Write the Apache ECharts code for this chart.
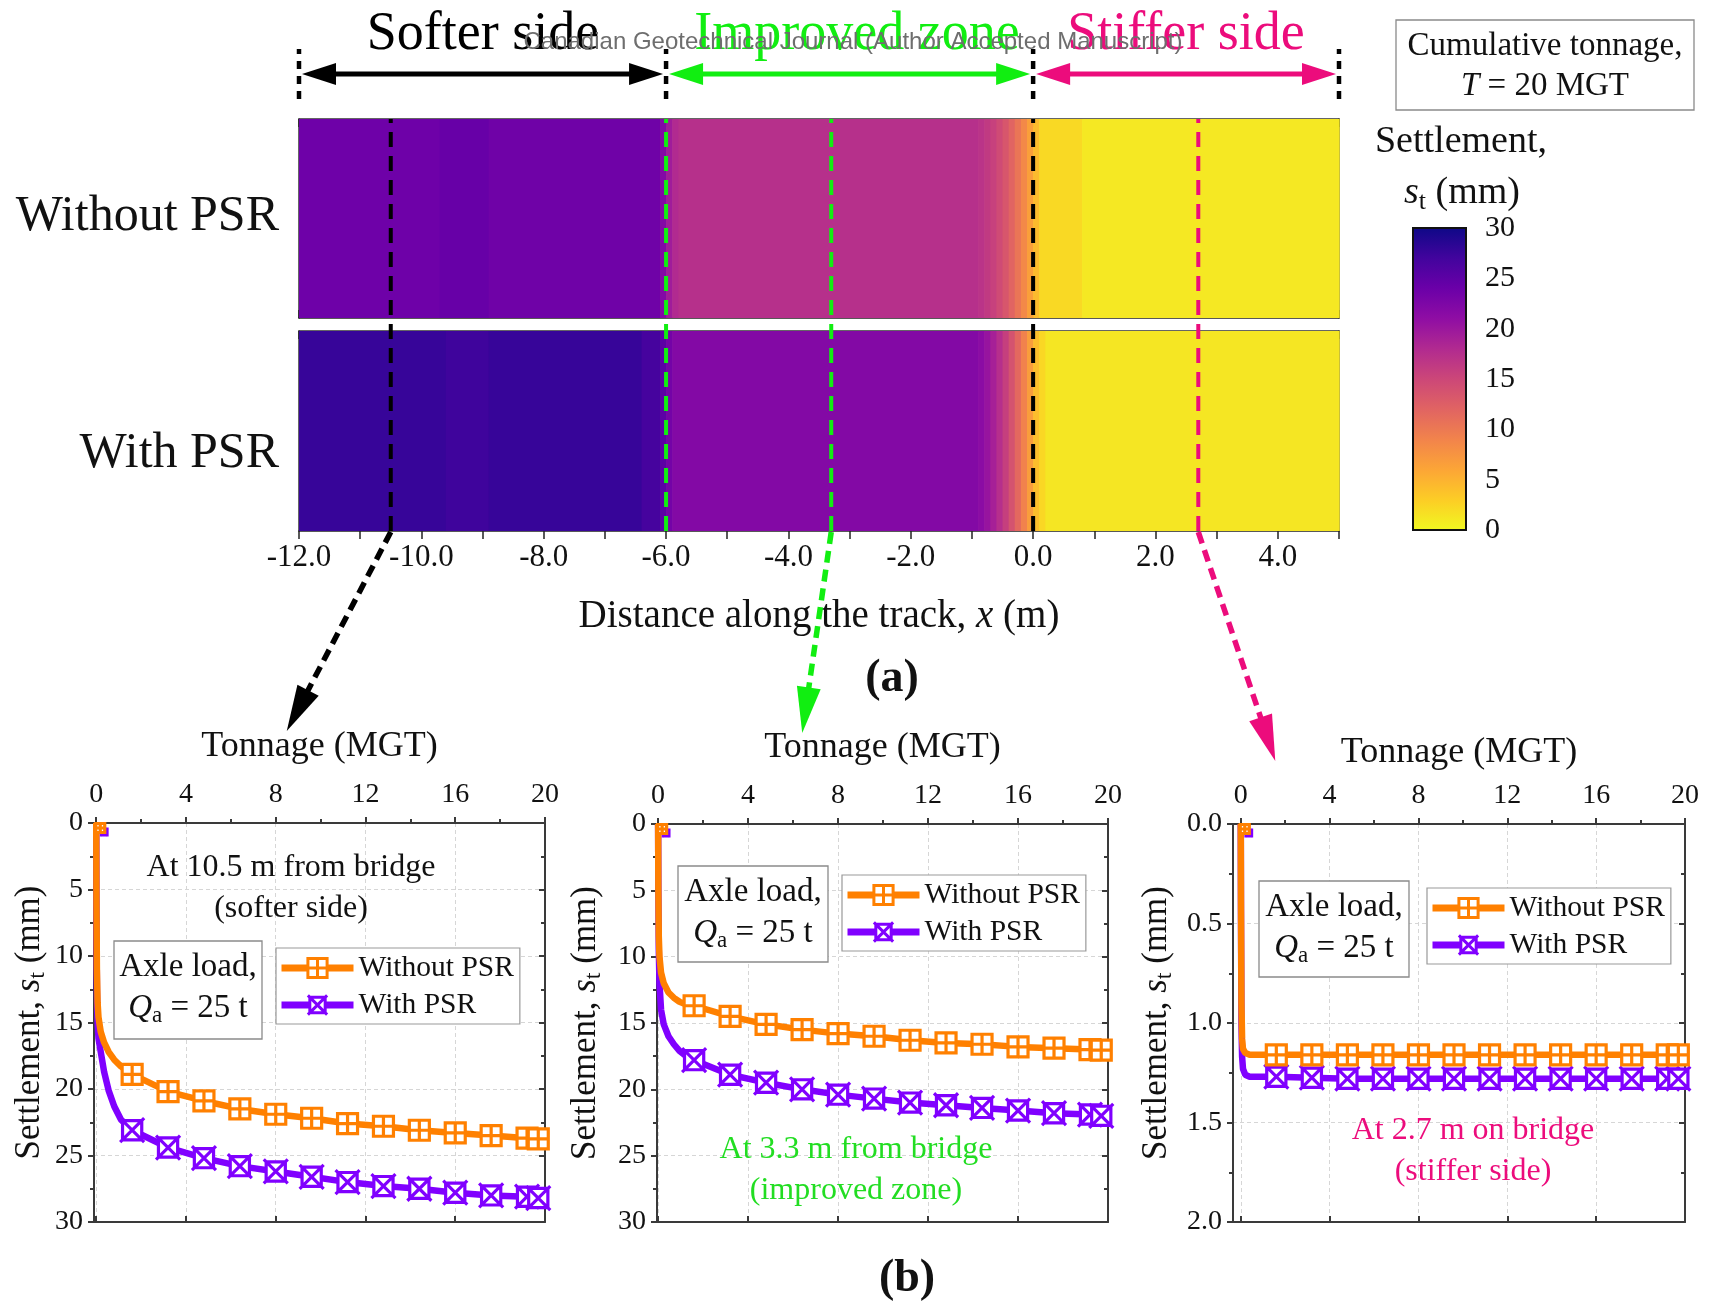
<!DOCTYPE html>
<html><head><meta charset="utf-8">
<script src="https://cdn.jsdelivr.net/npm/echarts@6/dist/echarts.min.js"></script>
<style>html,body{margin:0;padding:0;background:#fff}#c{width:1717px;height:1310px}</style>
</head><body><div id="c"></div>
<script>
// ================= DATA =================
const distanceRange = [-12, 5];
const zoneBounds = [-12, -6, 0, 5];
const zoneNames = ['Softer side', 'Improved zone', 'Stiffer side'];
const probeX = [-10.5, -3.3, 2.7];          // locations of the three plots in (b)
const boundaryX = [-6, 0];                  // zone boundaries drawn on the strips
const rowNames = ['Without PSR', 'With PSR'];
// strip segments: [from x (m), to x (m), settlement (mm)] at T = 20 MGT
const withoutPSRStrip = [
  [-12.0, -9.7, 23.7], [-9.7, -8.9, 24.2], [-8.9, -6.1, 23.6], [-6.1, -6.0, 22.0], [-6.0, -5.9, 19.5],
  [-5.9, -5.8, 18.0], [-5.8, -0.9, 17.4], [-0.9, -0.8, 17.0], [-0.8, -0.7, 16.3], [-0.7, -0.6, 15.6],
  [-0.6, -0.5, 14.6], [-0.5, -0.4, 13.4], [-0.4, -0.3, 12.0], [-0.3, -0.2, 10.4], [-0.2, -0.1, 8.6],
  [-0.1, 0.0, 6.6], [0.0, 0.1, 4.4], [0.1, 0.8, 2.2], [0.8, 5.0, 1.2]
];
const withPSRStrip = [
  [-12.0, -9.6, 27.6], [-9.6, -8.9, 27.1], [-8.9, -6.4, 27.6], [-6.4, -6.1, 26.6], [-6.1, -6.0, 25.0],
  [-6.0, -5.9, 23.2], [-5.9, -0.9, 22.0], [-0.9, -0.8, 21.3], [-0.8, -0.7, 20.3], [-0.7, -0.6, 19.0],
  [-0.6, -0.5, 17.5], [-0.5, -0.4, 15.8], [-0.4, -0.3, 13.8], [-0.3, -0.2, 11.6], [-0.2, -0.1, 9.2],
  [-0.1, 0.0, 6.8], [0.0, 0.1, 4.2], [0.1, 0.2, 2.4], [0.2, 5.0, 1.3]
];
const colorbarRange = [0, 30];
const plasma = ['#0d0887', '#41049d', '#6a00a8', '#8f0da4', '#b12a90', '#cc4778',
                '#e16462', '#f2844b', '#fca636', '#fcce25', '#f0f921'];

const tonnageTicks = [0, 4, 8, 12, 16, 20];
const tonnageMinor = [2, 6, 10, 14, 18];
const markT = [1.6, 3.2, 4.8, 6.4, 8.0, 9.6, 11.2, 12.8, 14.4, 16.0, 17.6, 19.2, 19.7];
const endT = 20;

const softEarlyT = [0, 0.01, 0.03, 0.06, 0.1, 0.2, 0.35, 0.55, 0.8, 1.1, 1.35];
const softEarlyWithout = [0, 6, 11, 13.5, 14.6, 15.7, 16.5, 17.2, 17.8, 18.3, 18.6];
const softEarlyWith = [0, 7, 12.5, 15, 16.2, 17.2, 18.7, 20.1, 21.3, 22.3, 22.7];
const softMarkWithout = [18.9, 20.2, 20.9, 21.5, 21.9, 22.2, 22.6, 22.8, 23.1, 23.3, 23.5, 23.7, 23.75];
const softMarkWith = [23.1, 24.4, 25.2, 25.8, 26.2, 26.6, 27.0, 27.3, 27.5, 27.8, 28.0, 28.1, 28.2];
const softEnd = [23.8, 28.3];

const improvedEarlyT = [0, 0.01, 0.03, 0.06, 0.13, 0.25, 0.46, 0.7, 0.95, 1.25];
const improvedEarlyWithout = [0, 5, 8.5, 10, 11.2, 12.0, 12.7, 13.1, 13.4, 13.6];
const improvedEarlyWith = [0, 5, 9.5, 12, 14, 15.1, 16.0, 16.6, 17.1, 17.5];
const improvedMarkWithout = [13.7, 14.5, 15.1, 15.5, 15.8, 16.0, 16.3, 16.5, 16.6, 16.8, 16.9, 17.0, 17.05];
const improvedMarkWith = [17.8, 18.9, 19.5, 20.0, 20.4, 20.7, 21.0, 21.2, 21.4, 21.6, 21.8, 21.9, 22.0];
const improvedEnd = [17.1, 22.05];

const stifferEarlyT = [0, 0.01, 0.03, 0.06, 0.1, 0.2, 0.4];
const stifferEarlyWithout = [0, 0.4, 0.9, 1.08, 1.13, 1.15, 1.16];
const stifferEarlyWith = [0, 0.45, 1.0, 1.17, 1.23, 1.26, 1.27];
const stifferMarkWithout = [1.16, 1.16, 1.16, 1.16, 1.16, 1.16, 1.16, 1.16, 1.16, 1.16, 1.16, 1.16, 1.16];
const stifferMarkWith = [1.27, 1.275, 1.28, 1.28, 1.28, 1.28, 1.28, 1.28, 1.28, 1.28, 1.28, 1.28, 1.28];
const stifferEnd = [1.16, 1.28];

// ================= STYLE =================
const FONT = "'Liberation Serif', 'Times New Roman', Times, serif";
const ORANGE = '#ff8000', PURPLE = '#8000ff', GREEN = '#11ee11', PINK = '#ec0c7c', AXIS = '#3a3a3a', TXT = '#111';
const zoneColors = ['#000000', GREEN, PINK];
const SYM_SQ = 'path://M0,0L20,0L20,20L0,20Z M10,0L10,20 M0,10L20,10';
const SYM_X = 'path://M2,2L18,2L18,18L2,18Z M0,0L20,20 M20,0L0,20';

const grids = [], xAxes = [], yAxes = [], series = [];
const addGrid = g => { grids.push(Object.assign({outerBoundsMode: 'none', containLabel: false}, g)); return grids.length - 1; };
const addX = a => { xAxes.push(a); return xAxes.length - 1; };
const addY = a => { yAxes.push(a); return yAxes.length - 1; };
const hidden = (g, min, max) => ({type: 'value', gridIndex: g, min, max, show: false});

// ---- top strip with zone arrows ----
const gStrip = addGrid({left: 299, top: 49, width: 1040, height: 50});
const stripX = addX(hidden(gStrip, distanceRange[0], distanceRange[1]));
const stripY = addY(hidden(gStrip, 0, 1));
zoneBounds.forEach(x => series.push({
  type: 'line', xAxisIndex: stripX, yAxisIndex: stripY, data: [[x, 0], [x, 1]], symbol: 'none', silent: true,
  lineStyle: {color: '#000', width: 4.5, type: [8, 7]}, animation: false
}));

// ---- strips ----
const stripGridsDef = [{top: 119, height: 199}, {top: 331, height: 200}];
const stripData = [withoutPSRStrip, withPSRStrip];
const heatSeriesIdx = [];
function renderStrip(params, api) {
  const a = api.coord([api.value(0), 1]);
  const b = api.coord([api.value(1), 0]);
  return {type: 'rect', shape: {x: a[0], y: a[1], width: b[0] - a[0] + 0.7, height: b[1] - a[1]},
          style: {fill: api.visual('color')}};
}
stripGridsDef.forEach((def, r) => {
  const g = addGrid({left: 299, width: 1040, top: def.top, height: def.height});
  const isBottom = r === 1;
  const common = {type: 'value', gridIndex: g, min: distanceRange[0], max: distanceRange[1], interval: 1,
    splitLine: {show: false}};
  const xT = addX(Object.assign({}, common, {position: 'top',
    axisLine: {show: true, onZero: false, lineStyle: {color: '#333', width: 1.5}},
    axisTick: {show: true, inside: true, length: 8, lineStyle: {color: '#222', width: 1.5}},
    axisLabel: {show: false}}));
  addX(Object.assign({}, common, {position: 'bottom',
    axisLine: {show: true, onZero: false, lineStyle: {color: '#222', width: 1.5}},
    axisTick: {show: true, inside: !isBottom, length: 8, lineStyle: {color: '#222', width: 1.5}},
    axisLabel: {show: isBottom, margin: 11, fontFamily: FONT, fontSize: 31, color: TXT,
      formatter: v => (Math.abs(v % 2) < 1e-9 && v < distanceRange[1]) ? v.toFixed(1) : ''},
    name: isBottom ? 'Distance along the track, {i|x} (m)' : '', nameLocation: 'middle', nameGap: 66,
    nameTextStyle: {fontFamily: FONT, fontSize: 39, color: TXT, rich: {i: {fontFamily: FONT, fontSize: 39, fontStyle: 'italic', color: TXT}}}}));
  const yL = addY({type: 'value', gridIndex: g, min: 0, max: 1, position: 'left',
    axisLine: {show: true, onZero: false, lineStyle: {color: '#333', width: 1.5}}, axisTick: {show: false},
    axisLabel: {show: false}, splitLine: {show: false}});
  addY({type: 'value', gridIndex: g, min: 0, max: 1, position: 'right',
    axisLine: {show: true, onZero: false, lineStyle: {color: '#333', width: 1.5}}, axisTick: {show: false},
    axisLabel: {show: false}, splitLine: {show: false}});
  heatSeriesIdx.push(series.length);
  series.push({type: 'custom', name: rowNames[r] + ' strip', xAxisIndex: xT, yAxisIndex: yL,
    dimensions: ['x0', 'x1', 's'], encode: {x: [0, 1]}, data: stripData[r], renderItem: renderStrip,
    silent: true, animation: false});
});

// ---- overlay for dashed location lines ----
const gOver = addGrid({left: 299, width: 1040, top: 119, height: 412});
const overX = addX(hidden(gOver, distanceRange[0], distanceRange[1]));
const overY = addY(hidden(gOver, 0, 1));
const zoneOf = x => x < zoneBounds[1] ? 0 : (x < zoneBounds[2] ? 1 : 2);
const boundaryColors = [GREEN, '#000000'];
boundaryX.forEach((x, i) => series.push({type: 'line', xAxisIndex: overX, yAxisIndex: overY,
  data: [[x, 0], [x, 1]], symbol: 'none', silent: true, z: 5, animation: false,
  lineStyle: {color: boundaryColors[i], width: 4, type: [15, 9]}}));
probeX.forEach(x => series.push({type: 'line', xAxisIndex: overX, yAxisIndex: overY,
  data: [[x, 0], [x, 1]], symbol: 'none', silent: true, z: 5, animation: false,
  lineStyle: {color: zoneColors[zoneOf(x)], width: 4, type: [15, 9]}}));

// ---- colorbar ----
const gCb = addGrid({left: 1413, top: 228, width: 53, height: 302});
const cbX = addX(hidden(gCb, 0, 1));
const cbY = addY({type: 'value', gridIndex: gCb, position: 'right', min: colorbarRange[0], max: colorbarRange[1], interval: 5,
  axisLine: {show: false}, axisTick: {show: true, inside: false, length: 6, lineStyle: {color: '#111', width: 1.5}},
  axisLabel: {margin: 19, fontFamily: FONT, fontSize: 30, color: TXT}, splitLine: {show: false}});
series.push({type: 'custom', xAxisIndex: cbX, yAxisIndex: cbY, data: [[colorbarRange[0], colorbarRange[1]]],
  silent: true, animation: false,
  renderItem: (params, api) => {
    const a = api.coord([0, api.value(1)]);
    const b = api.coord([1, api.value(0)]);
    return {type: 'rect', shape: {x: a[0], y: a[1], width: b[0] - a[0], height: b[1] - a[1]},
      style: {fill: {type: 'linear', x: 0, y: 0, x2: 0, y2: 1,
        colorStops: plasma.map((c, i) => ({offset: i / (plasma.length - 1), color: c}))},
        stroke: '#111', lineWidth: 2}};
  }});

// ---- subplots (b) ----
function buildData(earlyT, earlyS, markS, endS, firstSize, firstOff) {
  const d = [];
  earlyT.forEach((t, i) => d.push(i === 0
    ? {value: [t, earlyS[i]], symbolSize: firstSize, symbolOffset: firstOff}
    : {value: [t, earlyS[i]], symbol: 'none'}));
  markT.forEach((t, i) => d.push([t, markS[i]]));
  d.push({value: [endT, endS], symbol: 'none'});
  return d;
}
const subplots = [
  {grid: {left: 94, top: 823, width: 451, height: 399}, xmin: -0.1, ymax: 30, yInt: 5, dig: 0, yGap: 44, xGap: 58,
   early: softEarlyT, ew: softEarlyWithout, ep: softEarlyWith, mw: softMarkWithout, mp: softMarkWith, end: softEnd},
  {grid: {left: 657, top: 824, width: 451, height: 398}, xmin: -0.05, ymax: 30, yInt: 5, dig: 0, yGap: 51, xGap: 58,
   early: improvedEarlyT, ew: improvedEarlyWithout, ep: improvedEarlyWith, mw: improvedMarkWithout, mp: improvedMarkWith, end: improvedEnd},
  {grid: {left: 1233, top: 824, width: 452, height: 398}, xmin: -0.35, ymax: 2, yInt: 0.5, dig: 1, yGap: 56, xGap: 53,
   early: stifferEarlyT, ew: stifferEarlyWithout, ep: stifferEarlyWith, mw: stifferMarkWithout, mp: stifferMarkWith, end: stifferEnd}
];
const axStyle = {color: AXIS, width: 2};
const splitStyle = {show: true, lineStyle: {color: '#d6d6d6', type: [4, 3], width: 1}};
subplots.forEach(sp => {
  const g = addGrid(sp.grid);
  const xBase = {type: 'value', gridIndex: g, min: sp.xmin, max: 20, splitLine: {show: false}};
  const xTop = addX(Object.assign({}, xBase, {position: 'top',
    axisLine: {show: true, onZero: false, lineStyle: axStyle},
    axisTick: {show: true, inside: false, length: 6, customValues: tonnageTicks, lineStyle: axStyle},
    axisLabel: {show: true, customValues: tonnageTicks, margin: 14, fontFamily: FONT, fontSize: 28, color: TXT},
    splitLine: splitStyle,
    name: 'Tonnage (MGT)', nameLocation: 'middle', nameGap: sp.xGap,
    nameTextStyle: {fontFamily: FONT, fontSize: 36, color: TXT}}));
  addX(Object.assign({}, xBase, {position: 'top', axisLine: {show: false},
    axisTick: {show: true, inside: false, length: 4, customValues: tonnageMinor, lineStyle: axStyle},
    axisLabel: {show: false}}));
  addX(Object.assign({}, xBase, {position: 'bottom', axisLine: {show: true, onZero: false, lineStyle: axStyle},
    axisTick: {show: true, inside: true, length: 6, customValues: tonnageTicks, lineStyle: axStyle},
    axisLabel: {show: false}}));
  addX(Object.assign({}, xBase, {position: 'bottom', axisLine: {show: false},
    axisTick: {show: true, inside: true, length: 4, customValues: tonnageMinor, lineStyle: axStyle},
    axisLabel: {show: false}}));
  const yBase = {type: 'value', gridIndex: g, inverse: true, min: 0, max: sp.ymax, interval: sp.yInt};
  const yL = addY(Object.assign({}, yBase, {position: 'left',
    axisLine: {show: true, onZero: false, lineStyle: axStyle},
    axisTick: {show: true, inside: false, length: 6, lineStyle: axStyle},
    minorTick: {show: true, splitNumber: 2, length: 4, lineStyle: axStyle},
    axisLabel: {margin: 11, fontFamily: FONT, fontSize: 28, color: TXT, formatter: v => v.toFixed(sp.dig)},
    splitLine: splitStyle,
    name: 'Settlement, {i|s}{sub|t} (mm)', nameLocation: 'middle', nameGap: sp.yGap,
    nameTextStyle: {fontFamily: FONT, fontSize: 35, color: TXT, lineHeight: 40,
      rich: {i: {fontFamily: FONT, fontSize: 35, fontStyle: 'italic', color: TXT, lineHeight: 40},
             sub: {fontFamily: FONT, fontSize: 24, color: TXT, verticalAlign: 'bottom', lineHeight: 24}}}}));
  addY(Object.assign({}, yBase, {position: 'right',
    axisLine: {show: true, onZero: false, lineStyle: axStyle},
    axisTick: {show: true, inside: true, length: 6, lineStyle: axStyle},
    minorTick: {show: true, splitNumber: 2, length: 4, lineStyle: axStyle},
    axisLabel: {show: false}, splitLine: {show: false}}));
  series.push({type: 'line', name: 'With PSR', xAxisIndex: xTop, yAxisIndex: yL,
    data: buildData(sp.early, sp.ep, sp.mp, sp.end[1], 7, [8, 9]),
    symbol: SYM_X, symbolSize: 24, symbolKeepAspect: true, showAllSymbol: true, clip: true,
    lineStyle: {color: PURPLE, width: 6.5}, itemStyle: {color: '#fff', borderColor: PURPLE, borderWidth: 3.2},
    emphasis: {disabled: true}, z: 3, animation: false});
  series.push({type: 'line', name: 'Without PSR', xAxisIndex: xTop, yAxisIndex: yL,
    data: buildData(sp.early, sp.ew, sp.mw, sp.end[0], 9, [4, 5]),
    symbol: SYM_SQ, symbolSize: 20, symbolKeepAspect: true, showAllSymbol: true, clip: true,
    lineStyle: {color: ORANGE, width: 6.5}, itemStyle: {color: '#fff', borderColor: ORANGE, borderWidth: 3.2},
    emphasis: {disabled: true}, z: 4, animation: false});
});

const legendPos = [{left: 276, top: 948}, {left: 842, top: 875}, {left: 1427, top: 888}];
const legends = legendPos.map(p => ({
  left: p.left, top: p.top, orient: 'vertical', data: ['Without PSR', 'With PSR'],
  itemWidth: 72, itemHeight: 24, itemGap: 7, padding: [5, 6, 4, 2],
  borderColor: '#999', borderWidth: 1.2, backgroundColor: '#fff', selectedMode: false,
  itemStyle: {borderWidth: 3},
  lineStyle: {width: 7},
  textStyle: {fontFamily: FONT, fontSize: 29.5, color: TXT, lineHeight: 30}
}));

const chart = echarts.init(document.getElementById('c'), null, {renderer: 'canvas'});
chart.setOption({
  animation: false,
  backgroundColor: '#fff',
  textStyle: {fontFamily: FONT},
  grid: grids, xAxis: xAxes, yAxis: yAxes, series,
  legend: legends,
  visualMap: {type: 'continuous', show: false, min: colorbarRange[0], max: colorbarRange[1], dimension: 2,
    seriesIndex: heatSeriesIdx, inRange: {color: plasma.slice().reverse()}}
});

// ================= ANNOTATIONS =================
const els = [];
function text(x, y, str, o) {
  o = o || {};
  els.push({type: 'text', x, y, z: o.z || 100, silent: true, style: Object.assign({
    text: str, fontFamily: FONT, fontSize: o.size || 32, fontWeight: o.weight || 'normal',
    fill: o.color || TXT, align: o.align || 'center', verticalAlign: 'middle',
    textAlign: o.align || 'center', textVerticalAlign: 'middle'}, o.rich ? {rich: o.rich} : {})});
}
function rect(x, y, w, h, stroke) {
  els.push({type: 'rect', z: 90, silent: true, shape: {x, y, width: w, height: h},
    style: {fill: '#fff', stroke: stroke || '#8a8a8a', lineWidth: 1.3}});
}
function arrow(p0, p1, color, o) {
  const dx = p1[0] - p0[0], dy = p1[1] - p0[1], L = Math.hypot(dx, dy);
  const ux = dx / L, uy = dy / L, nx = -uy, ny = ux, hl = o.headLen, hw = o.headWidth / 2;
  const s = o.double ? [p0[0] + ux * hl * 0.9, p0[1] + uy * hl * 0.9] : p0;
  const e = [p1[0] - ux * hl * 0.9, p1[1] - uy * hl * 0.9];
  els.push({type: 'line', z: 95, silent: true, shape: {x1: s[0], y1: s[1], x2: e[0], y2: e[1]},
    style: {stroke: color, lineWidth: o.width, lineDash: o.dash || null}});
  const head = (t, vx, vy) => ({type: 'polygon', z: 96, silent: true, shape: {points: [
    [t[0], t[1]], [t[0] - vx * hl + nx * hw, t[1] - vy * hl + ny * hw], [t[0] - vx * hl - nx * hw, t[1] - vy * hl - ny * hw]]},
    style: {fill: color}});
  els.push(head(p1, ux, uy));
  if (o.double) els.push(head(p0, -ux, -uy));
}
const px = (xi, yi, v) => chart.convertToPixel({xAxisIndex: xi, yAxisIndex: yi}, v);

// zone arrows + names
const zoneTextX = [483, 857, 1186];
for (let i = 0; i < 3; i++) {
  const a = px(stripX, stripY, [zoneBounds[i], 0.5]);
  const b = px(stripX, stripY, [zoneBounds[i + 1], 0.5]);
  arrow([a[0] + 3, a[1]], [b[0] - 3, b[1]], zoneColors[i], {headLen: 34, headWidth: 22, width: 5, double: true});
  text(zoneTextX[i], 35, zoneNames[i], {size: 54, color: zoneColors[i], z: 80});
}
// diagonal pointers from strips to plots
const pointerOffsets = [[-104, 200], [-29, 202], [77, 230]];
probeX.forEach((x, i) => {
  const a = px(overX, overY, [x, 0]);
  arrow([a[0], a[1] + 1], [a[0] + pointerOffsets[i][0], a[1] + pointerOffsets[i][1]], zoneColors[i],
    {headLen: 46, headWidth: 24, width: 5.5, dash: [12, 7]});
});
// row labels
text(279, 217, rowNames[0], {size: 50, align: 'right'});
text(279, 454, rowNames[1], {size: 50, align: 'right'});
// tonnage box
rect(1396, 20, 298, 90);
text(1545, 46, 'Cumulative tonnage,', {size: 33});
text(1545, 86, '{i|T} = 20 MGT', {size: 33, rich: {i: {fontStyle: 'italic', fontSize: 33, fontFamily: FONT, fill: TXT}}});
// colorbar title
text(1461, 142, 'Settlement,', {size: 38});
text(1462, 193, '{i|s}{sub|t} (mm)', {size: 38, rich: {
  i: {fontStyle: 'italic', fontSize: 38, fontFamily: FONT, fill: TXT, lineHeight: 44},
  sub: {fontSize: 26, fontFamily: FONT, fill: TXT, verticalAlign: 'bottom', lineHeight: 26}}});
text(892, 679, '(a)', {size: 46, weight: 'bold'});
text(907, 1279, '(b)', {size: 46, weight: 'bold'});
// plot annotations
const qRich = {i: {fontStyle: 'italic', fontSize: 33, fontFamily: FONT, fill: TXT, lineHeight: 38},
               sub: {fontSize: 23, fontFamily: FONT, fill: TXT, verticalAlign: 'bottom', lineHeight: 23}};
const axleBoxes = [[114, 941, 148, 98], [678, 866, 150, 96], [1259, 881, 150, 96]];
axleBoxes.forEach(b => {
  rect(b[0], b[1], b[2], b[3]);
  text(b[0] + b[2] / 2, b[1] + 26, 'Axle load,', {size: 33});
  text(b[0] + b[2] / 2, b[1] + 67, '{i|Q}{sub|a} = 25 t', {size: 33, rich: qRich});
});
text(291, 868, 'At 10.5 m from bridge', {size: 32});
text(291, 909, '(softer side)', {size: 32});
text(856, 1150, 'At 3.3 m from bridge', {size: 32, color: '#22dd22'});
text(856, 1191, '(improved zone)', {size: 32, color: '#22dd22'});
text(1473, 1131, 'At 2.7 m on bridge', {size: 32, color: PINK});
text(1473, 1172, '(stiffer side)', {size: 32, color: PINK});
// watermark
els.push({type: 'text', x: 853, y: 42, z: 200, silent: true, style: {text: 'Canadian Geotechnical Journal (Author Accepted Manuscript)',
  fontFamily: "'Liberation Sans', Arial, sans-serif", fontSize: 24, fill: '#6e6e6e',
  align: 'center', verticalAlign: 'middle', textAlign: 'center', textVerticalAlign: 'middle'}});

chart.setOption({graphic: {elements: els}});
</script></body></html>
